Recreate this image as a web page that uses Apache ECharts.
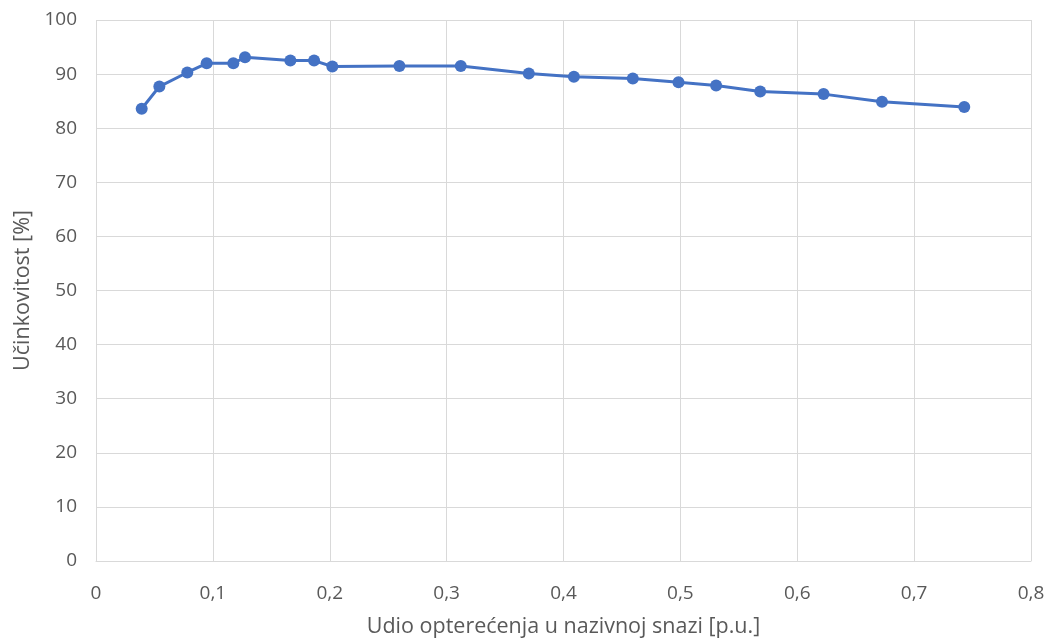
<!DOCTYPE html>
<html><head><meta charset="utf-8">
<script src="https://cdn.jsdelivr.net/npm/echarts@6/dist/echarts.min.js"></script>
<style>html,body{margin:0;padding:0;background:#fff}#c{width:1048px;height:639px}</style>
</head><body><div id="c"></div>
<script>
const loadShare = [0.0391,0.0542,0.0781,0.0947,0.1175,0.1275,0.1663,0.1866,0.2022,0.2596,0.3121,0.3703,0.4089,0.4593,0.4984,0.5306,0.5683,0.6225,0.6725,0.7429];
const efficiency = [83.6,87.7,90.3,92.0,92.0,93.1,92.5,92.5,91.4,91.5,91.5,90.1,89.5,89.2,88.5,87.9,86.8,86.3,84.9,83.9];
const xAxisName = 'Udio opterećenja u nazivnoj snazi [p.u.]';
const yAxisName = 'Učinkovitost [%]';

const chart = echarts.init(document.getElementById('c'));
const font = '"Open Sans", "Noto Sans", sans-serif';
chart.setOption({
  animation:false,
  textStyle:{fontFamily:font},
  grid:{left:96,right:17,top:20,bottom:78,containLabel:false,outerBoundsMode:'none'},
  xAxis:{type:'value',min:0,max:0.8,interval:0.1,
    name:xAxisName,nameLocation:'middle',nameGap:55,
    nameTextStyle:{color:'#595959',fontSize:21.5,fontFamily:font},
    axisLine:{show:true,lineStyle:{color:'#d9d9d9'}},axisTick:{show:false},
    axisLabel:{color:'#595959',fontSize:19,margin:23,fontFamily:font,
      formatter:v=>String(Math.round(v*10)/10).replace('.',',')},
    splitLine:{show:true,lineStyle:{color:'#d9d9d9'}}},
  yAxis:{type:'value',min:0,max:100,interval:10,
    name:yAxisName,nameLocation:'middle',nameGap:62,nameRotate:90,
    nameTextStyle:{color:'#595959',fontSize:21.5,fontFamily:font},
    axisLine:{show:false},axisTick:{show:false},
    axisLabel:{color:'#595959',fontSize:19,margin:19,fontFamily:font},
    splitLine:{show:true,lineStyle:{color:'#d9d9d9'}}},
  series:[{type:'line',data:loadShare.map((x,i)=>[x,efficiency[i]]),
    lineStyle:{color:'#4472C4',width:3},
    itemStyle:{color:'#4472C4'},symbol:'circle',symbolSize:12,showSymbol:true}]
});
</script></body></html>
